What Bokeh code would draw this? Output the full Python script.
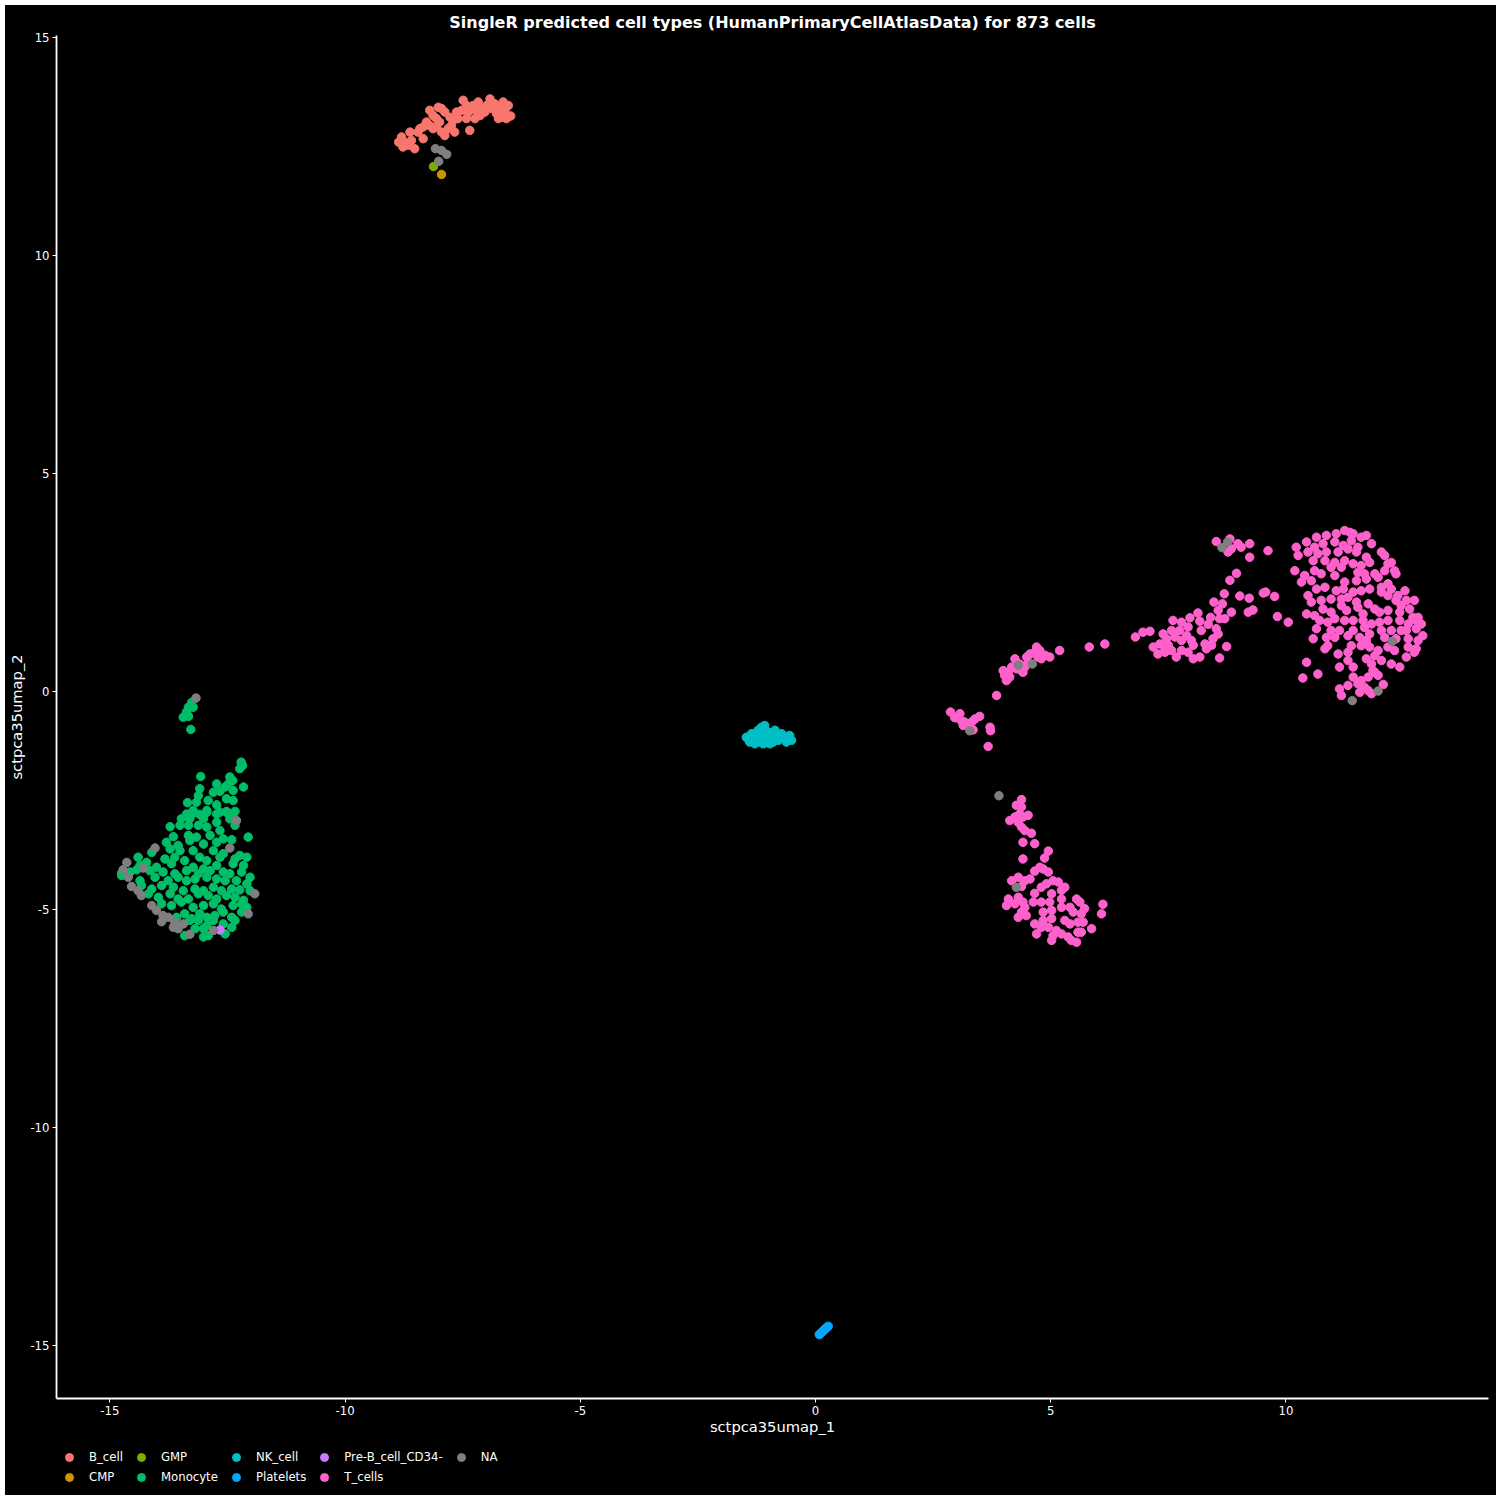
from bokeh.plotting import figure
from bokeh.layouts import column
from bokeh.models import Range1d, Legend, LegendItem, ColumnDataSource, FixedTicker
from bokeh.embed import file_html
from bokeh.resources import INLINE

TITLE = "SingleR predicted cell types (HumanPrimaryCellAtlasData) for 873 cells"
X_LABEL = "sctpca35umap_1"
Y_LABEL = "sctpca35umap_2"
x_ticks = [-15, -10, -5, 0, 5, 10]
y_ticks = [-15, -10, -5, 0, 5, 10, 15]

categories = ["B_cell", "CMP", "GMP", "Monocyte", "NK_cell", "Platelets",
              "Pre-B_cell_CD34-", "T_cells", "NA"]
colors = ["#F8766D", "#CD9600", "#7CAE00", "#00BE67", "#00BFC4", "#00A9FF",
          "#C77CFF", "#FF61CC", "#7F7F7F"]

b_cell = [
    (-8.80, 12.72), (-8.73, 12.60), (-8.77, 12.49), (-8.62, 12.83), (-8.59, 12.64),
    (-8.52, 12.45), (-8.66, 12.53), (-8.41, 12.91), (-8.34, 12.95), (-8.45, 12.83),
    (-8.27, 13.06), (-8.20, 12.98), (-8.34, 12.68), (-8.13, 12.91), (-8.06, 12.95),
    (-8.20, 13.33), (-8.13, 13.21), (-8.06, 13.14), (-8.02, 13.40), (-7.95, 13.37),
    (-7.88, 13.29), (-7.99, 13.06), (-7.95, 12.83), (-7.88, 12.75), (-7.81, 12.91),
    (-7.74, 12.98), (-7.77, 13.17), (-7.70, 13.10), (-7.63, 13.29), (-7.60, 13.14),
    (-7.67, 12.83), (-7.49, 13.56), (-7.52, 13.33), (-7.42, 13.14), (-7.35, 12.87),
    (-7.38, 13.29), (-7.28, 13.44), (-7.21, 13.33), (-7.17, 13.52), (-7.13, 13.21),
    (-7.10, 13.37), (-6.99, 13.44), (-6.92, 13.59), (-6.89, 13.37), (-6.82, 13.48),
    (-6.78, 13.25), (-6.71, 13.40), (-6.67, 13.17), (-6.60, 13.33), (-6.57, 13.14),
    (-6.53, 13.44), (-6.64, 13.52), (-6.74, 13.14), (-7.03, 13.29), (-7.24, 13.14),
    (-7.42, 13.44), (-8.86, 12.60), (-6.48, 13.20),
]
cmp_cells = [(-7.95, 11.86)]
gmp_cells = [(-8.12, 12.04)]
pre_b = [(-12.66, -5.47)]

monocyte = [
    (-13.26, -0.25), (-13.33, -0.36), (-13.23, -0.36), (-13.37, -0.47), (-13.44, -0.59),
    (-13.33, -0.57), (-13.28, -0.87),
    (-12.21, -1.62), (-12.18, -1.70), (-12.24, -1.77), (-13.07, -1.95), (-12.45, -1.96),
    (-12.39, -2.04), (-12.48, -2.12), (-12.73, -2.12), (-12.16, -2.19), (-12.55, -2.19),
    (-12.66, -2.29), (-12.80, -2.31), (-13.09, -2.23), (-13.12, -2.39), (-12.38, -2.27),
    (-12.38, -2.50), (-13.35, -2.55), (-13.16, -2.54), (-12.91, -2.50), (-12.73, -2.60),
    (-12.52, -2.46), (-13.23, -2.73), (-12.94, -2.73), (-12.66, -2.77), (-12.52, -2.75),
    (-12.34, -2.75),
    (-13.37, -2.81), (-13.23, -2.79), (-13.09, -2.82), (-12.94, -2.77), (-12.73, -2.81),
    (-12.52, -2.77), (-12.38, -2.81),
    (-13.48, -2.92), (-13.30, -2.92), (-13.01, -2.92), (-12.73, -3.00), (-12.45, -2.92),
    (-13.72, -3.10), (-13.51, -3.07), (-13.33, -3.07), (-13.12, -3.07), (-12.94, -3.11),
    (-12.66, -3.19), (-12.34, -3.07),
    (-13.65, -3.33), (-13.33, -3.30), (-13.16, -3.34), (-12.87, -3.30), (-12.59, -3.38),
    (-12.41, -3.40), (-12.06, -3.34),
    (-13.80, -3.46), (-13.55, -3.53), (-13.30, -3.42), (-13.01, -3.50), (-12.73, -3.46),
    (-14.11, -3.69), (-13.72, -3.61), (-13.51, -3.65), (-13.23, -3.65), (-12.80, -3.65),
    (-12.59, -3.72),
    (-14.40, -3.80), (-14.22, -3.92), (-13.83, -3.84), (-13.62, -3.80), (-13.41, -3.88),
    (-13.09, -3.80), (-12.94, -3.88), (-12.66, -3.80), (-12.34, -3.84), (-12.24, -3.76),
    (-12.09, -3.80),
    (-14.36, -3.99), (-14.01, -4.03), (-13.69, -3.95), (-13.23, -4.03), (-13.01, -4.07),
    (-12.73, -3.99), (-12.38, -3.95), (-12.16, -3.99),
    (-14.57, -4.14), (-14.43, -4.09), (-14.15, -4.11), (-13.87, -4.14), (-13.62, -4.18),
    (-13.37, -4.11), (-13.12, -4.18), (-12.87, -4.11), (-12.59, -4.14), (-12.45, -4.18),
    (-12.20, -4.14), (-12.02, -4.26),
    (-14.75, -4.22), (-14.36, -4.34), (-14.04, -4.26), (-13.76, -4.34), (-13.55, -4.26),
    (-13.37, -4.34), (-13.19, -4.30), (-12.94, -4.26), (-12.73, -4.30), (-12.55, -4.34),
    (-12.31, -4.34), (-12.09, -4.41),
    (-14.33, -4.45), (-14.11, -4.53), (-13.90, -4.45), (-13.65, -4.49), (-13.44, -4.57),
    (-13.19, -4.53), (-13.01, -4.57), (-12.80, -4.49), (-12.63, -4.57), (-12.41, -4.53),
    (-12.24, -4.55), (-12.02, -4.57),
    (-14.18, -4.64), (-13.97, -4.72), (-13.72, -4.64), (-13.55, -4.76), (-13.33, -4.76),
    (-13.12, -4.64), (-12.91, -4.68), (-12.73, -4.76), (-12.52, -4.68), (-12.34, -4.72),
    (-12.16, -4.79),
    (-13.90, -4.87), (-13.69, -4.91), (-13.48, -4.83), (-13.23, -4.95), (-13.01, -4.91),
    (-12.80, -4.87), (-12.63, -4.99), (-12.38, -4.91), (-12.20, -4.87), (-12.09, -4.95),
    (-13.58, -5.18), (-13.41, -5.10), (-13.26, -5.21), (-13.09, -5.10), (-12.94, -5.18),
    (-12.77, -5.14), (-12.59, -5.06), (-12.41, -5.18), (-12.20, -5.06),
    (-13.30, -5.25), (-13.12, -5.25), (-12.94, -5.37), (-12.80, -5.25), (-12.59, -5.33),
    (-12.34, -5.25),
    (-13.19, -5.44), (-13.01, -5.44), (-12.55, -5.56), (-12.41, -5.41),
    (-13.41, -5.60), (-13.01, -5.63), (-12.91, -5.60), (-14.75, -4.17),
]

nk_cell = [
    (-1.43, -1.09), (-1.36, -0.97), (-1.32, -1.16), (-1.25, -1.05), (-1.22, -0.89),
    (-1.15, -0.82), (-1.11, -1.01), (-1.08, -0.78), (-1.18, -1.16), (-1.04, -1.12),
    (-1.01, -0.93), (-0.94, -1.05), (-0.97, -1.20), (-0.86, -0.89), (-0.83, -1.01),
    (-0.79, -1.12), (-0.72, -0.97), (-0.65, -1.05), (-0.62, -1.16), (-0.55, -1.01),
    (-0.51, -1.12), (-1.29, -1.20), (-1.11, -1.20), (-0.90, -1.16), (-1.40, -1.16),
    (-1.47, -1.05),
]

platelets = [
    (0.08, -14.75), (0.12, -14.71), (0.15, -14.68), (0.18, -14.65), (0.21, -14.62),
    (0.24, -14.59), (0.27, -14.56), (0.10, -14.73), (0.20, -14.63),
]

t_cells = [
    # upper arm
    (3.99, 0.48), (4.02, 0.37), (4.06, 0.25), (4.10, 0.44), (4.17, 0.56), (4.24, 0.75),
    (4.27, 0.52), (4.34, 0.63), (4.38, 0.48), (4.45, 0.56), (4.49, 0.79), (4.52, 0.67),
    (4.56, 0.86), (4.66, 0.90), (4.70, 1.02), (4.73, 0.79), (4.77, 0.94), (4.80, 0.75),
    (4.88, 0.83), (4.98, 0.79), (5.19, 0.94), (5.82, 1.02), (6.15, 1.09), (4.13, 0.33),
    (4.41, 0.44),
    (2.87, -0.47), (2.96, -0.60), (3.07, -0.51), (3.10, -0.67), (3.17, -0.70),
    (3.25, -0.78), (3.28, -0.82), (3.35, -0.88), (3.39, -0.63), (3.49, -0.57),
    (3.71, -0.82), (3.72, -0.90), (3.67, -1.26), (3.85, -0.09), (3.00, -0.60),
    (3.14, -0.78), (3.32, -0.70),
    # lower cluster
    (4.38, -2.48), (4.27, -2.61), (4.38, -2.65), (4.13, -2.96), (4.24, -2.88),
    (4.34, -2.81), (4.41, -2.88), (4.52, -2.84), (4.31, -3.00), (4.38, -3.11),
    (4.45, -3.19), (4.59, -3.25), (4.41, -3.46), (4.66, -3.49), (4.95, -3.66),
    (4.87, -3.82), (4.41, -3.84), (4.77, -4.03), (4.66, -4.12), (4.95, -4.14),
    (4.56, -4.30), (4.31, -4.26), (4.17, -4.34), (4.38, -4.47), (4.45, -4.34),
    (4.84, -4.07), (5.05, -4.34), (5.16, -4.37), (5.30, -4.49), (4.80, -4.49),
    (4.91, -4.41), (5.02, -4.64), (5.23, -4.56), (4.66, -4.63), (4.80, -4.83),
    (4.98, -4.83), (4.63, -4.83), (4.41, -4.83), (4.31, -4.72), (4.10, -4.76),
    (4.06, -4.91), (4.24, -4.87), (4.45, -4.95), (4.31, -5.18), (4.48, -5.14),
    (4.38, -5.06), (4.84, -5.06), (5.02, -5.02), (5.23, -4.76), (5.23, -4.95),
    (5.41, -4.95), (5.55, -4.76), (5.62, -4.83), (5.48, -5.06), (5.65, -5.10),
    (5.72, -4.98), (4.84, -5.25), (5.02, -5.21), (4.80, -5.41), (4.95, -5.41),
    (5.12, -5.48), (5.30, -5.25), (5.41, -5.33), (5.58, -5.29), (5.69, -5.29),
    (4.66, -5.33), (4.70, -5.56), (5.05, -5.60), (5.23, -5.56), (5.37, -5.63),
    (5.58, -5.52), (5.44, -5.71), (5.65, -5.52), (5.87, -5.44), (6.08, -5.10),
    (6.11, -4.88), (5.02, -5.71), (5.55, -5.75),
    # middle branch
    (8.52, 3.44), (8.81, 3.50), (8.98, 3.39), (9.05, 3.31), (9.23, 3.39), (8.77, 3.20),
    (8.84, 3.27), (9.23, 3.08), (9.62, 3.23), (8.95, 2.71), (8.81, 2.55), (8.69, 2.24),
    (8.47, 2.05), (8.65, 2.01), (9.02, 2.19), (9.22, 2.14), (9.52, 2.26), (9.57, 2.28),
    (9.76, 2.18), (8.84, 1.82), (9.20, 1.82), (9.30, 1.87), (9.82, 1.72),
    (6.80, 1.25), (6.96, 1.36), (7.11, 1.38), (7.39, 1.32), (7.57, 1.40), (7.60, 1.63),
    (7.78, 1.59), (7.96, 1.69), (7.92, 1.48), (8.13, 1.80), (8.17, 1.61), (8.35, 1.54),
    (8.40, 1.70), (8.56, 1.86), (8.59, 1.67), (8.70, 1.67), (8.52, 1.44), (8.56, 1.32),
    (8.45, 1.21), (8.28, 1.09), (8.31, 0.98), (8.42, 1.06), (8.74, 1.03), (8.59, 0.77),
    (8.17, 0.79), (8.03, 0.75), (7.92, 0.90), (7.78, 0.94), (7.67, 0.79), (7.50, 1.06),
    (7.32, 1.09), (7.18, 1.02), (7.28, 0.86), (7.43, 0.90), (7.64, 1.25), (7.74, 1.40),
    (7.89, 1.28), (7.99, 1.17), (8.03, 1.06), (7.46, 1.21), (7.78, 1.17), (8.20, 1.40),
    (7.57, 0.94), (7.43, 0.98),
    # large right cluster
    (10.65, 3.54), (10.86, 3.58), (11.07, 3.62), (11.25, 3.69), (11.36, 3.65),
    (11.43, 3.62), (11.60, 3.54), (11.71, 3.58),
    (10.22, 3.31), (10.44, 3.43), (10.61, 3.31), (10.79, 3.39), (11.04, 3.43),
    (11.22, 3.35), (11.39, 3.46), (11.53, 3.31), (11.82, 3.39), (12.03, 3.20),
    (10.26, 3.12), (10.47, 3.20), (10.68, 3.16), (10.86, 3.20), (11.11, 3.20),
    (11.32, 3.27), (11.50, 3.20), (11.71, 3.08), (12.10, 3.12), (12.17, 2.93),
    (10.58, 3.00), (10.83, 3.00), (11.04, 2.96), (11.25, 3.00), (11.43, 2.93),
    (11.60, 2.89), (11.78, 2.96), (12.24, 2.96),
    (10.19, 2.77), (10.40, 2.66), (10.61, 2.77), (10.96, 2.85), (11.18, 2.85),
    (11.53, 2.73), (11.67, 2.70), (11.89, 2.70), (12.10, 2.77), (12.31, 2.77),
    (12.34, 2.70),
    (10.33, 2.51), (10.54, 2.54), (10.75, 2.70), (11.04, 2.66), (11.25, 2.51),
    (11.50, 2.54), (11.71, 2.58), (11.96, 2.62), (12.17, 2.47), (12.03, 2.39),
    (10.47, 2.20), (10.65, 2.35), (10.83, 2.39), (11.07, 2.31), (11.22, 2.35),
    (11.43, 2.28), (11.60, 2.31), (11.78, 2.35), (12.03, 2.28), (12.24, 2.35),
    (12.38, 2.20), (12.53, 2.31), (12.56, 2.09),
    (10.54, 2.05), (10.75, 2.09), (10.96, 2.12), (11.18, 2.12), (11.32, 2.16),
    (11.50, 2.05), (11.75, 2.01), (12.17, 2.20), (12.34, 2.09), (12.45, 1.97),
    (12.73, 2.09),
    (10.44, 1.78), (10.61, 1.74), (10.79, 1.89), (10.96, 1.82), (11.18, 1.97),
    (11.29, 1.86), (11.53, 1.93), (11.64, 1.78), (11.89, 1.89), (11.99, 1.82),
    (12.17, 1.86), (12.42, 1.82), (12.63, 1.89), (12.70, 1.70), (12.81, 1.70),
    (10.05, 1.59), (10.72, 1.63), (10.89, 1.59), (11.04, 1.67), (11.25, 1.63),
    (11.43, 1.63), (11.64, 1.63), (11.82, 1.55), (11.99, 1.59), (12.17, 1.63),
    (12.42, 1.63), (12.60, 1.55), (12.88, 1.55), (12.77, 1.63),
    (10.65, 1.44), (10.96, 1.40), (11.14, 1.40), (11.43, 1.40), (11.67, 1.47),
    (11.78, 1.32), (12.03, 1.40), (12.24, 1.40), (12.45, 1.40), (12.56, 1.40),
    (12.77, 1.44), (12.91, 1.28),
    (10.58, 1.21), (10.86, 1.24), (11.04, 1.24), (11.32, 1.28), (11.57, 1.24),
    (11.71, 1.17), (12.10, 1.24), (12.34, 1.21), (12.60, 1.21), (12.81, 1.17),
    (10.89, 1.05), (10.83, 0.98), (11.11, 0.86), (11.39, 1.05), (11.32, 0.90),
    (11.60, 1.05), (11.78, 1.02), (11.96, 0.94), (12.17, 1.02), (12.31, 0.94),
    (12.60, 1.02), (12.73, 0.90), (12.56, 0.79), (12.77, 0.98),
    (10.44, 0.67), (10.68, 0.40), (11.14, 0.56), (11.32, 0.71), (11.43, 0.56),
    (11.71, 0.75), (11.82, 0.63), (11.89, 0.82), (12.03, 0.71), (12.24, 0.63),
    (12.42, 0.56), (11.85, 0.48),
    (10.36, 0.31), (11.43, 0.33), (11.60, 0.25), (11.75, 0.33), (11.89, 0.44),
    (11.96, 0.37), (12.07, 0.16),
    (11.14, 0.06), (11.32, 0.14), (11.53, 0.18), (11.57, -0.02), (11.75, 0.02),
    (11.82, -0.05), (11.67, 0.10), (11.18, -0.09),
]

na_cells = [
    (-8.08, 12.45), (-7.95, 12.41), (-7.84, 12.32), (-8.01, 12.16),
    (-13.17, -0.15), (-12.31, -2.96), (-14.04, -3.59), (-12.45, -3.59), (-14.64, -3.92),
    (-14.72, -4.09), (-14.29, -4.05), (-14.61, -4.26), (-14.54, -4.47), (-14.40, -4.57),
    (-14.33, -4.68), (-11.92, -4.64), (-14.11, -4.91), (-14.01, -5.02), (-13.87, -5.14),
    (-13.76, -5.18), (-12.06, -5.10), (-13.90, -5.28), (-13.62, -5.29), (-13.44, -5.33),
    (-13.65, -5.41), (-13.55, -5.44), (-12.80, -5.48), (-13.30, -5.57),
    (4.61, 0.63), (4.31, 0.60), (3.28, -0.90), (3.90, -2.39), (4.27, -4.49),
    (8.76, 3.43), (8.64, 3.30), (12.26, 1.15), (11.96, 0.01), (11.41, -0.21),
]

series = [b_cell, cmp_cells, gmp_cells, monocyte, nk_cell, platelets, pre_b, t_cells, na_cells]

FONT = "DejaVu Sans"

p = figure(frame_width=1432, frame_height=1363,
           x_range=Range1d(-16.135, 14.307), y_range=Range1d(-16.216, 15.046),
           output_backend="svg", toolbar_location=None,
           min_border_left=50, min_border_right=8, min_border_top=30, min_border_bottom=45,
           background_fill_color="black", border_fill_color="black",
           outline_line_color=None, margin=0)

p.title.text = TITLE
p.title.align = "center"
p.title.text_color = "white"
p.title.text_font = FONT
p.title.text_font_size = "16px"
p.title.text_font_style = "bold"
p.title.standoff = 7

p.xgrid.visible = False
p.ygrid.visible = False

for ax, ticks, lab in ((p.xaxis[0], x_ticks, X_LABEL), (p.yaxis[0], y_ticks, Y_LABEL)):
    ax.ticker = FixedTicker(ticks=ticks)
    ax.major_label_overrides = {t: str(t) for t in ticks}
    ax.axis_label = lab
    ax.axis_label_text_color = "white"
    ax.axis_label_text_font = FONT
    ax.axis_label_text_font_size = "14.7px"
    ax.axis_label_text_font_style = "normal"
    ax.axis_label_standoff = 2
    ax.major_label_text_color = "white"
    ax.major_label_text_font = FONT
    ax.major_label_text_font_size = "11.7px"
    ax.major_label_standoff = 3
    ax.axis_line_color = "white"
    ax.axis_line_width = 1.8
    ax.major_tick_line_color = "white"
    ax.major_tick_line_width = 1
    ax.major_tick_out = 4
    ax.major_tick_in = 0
    ax.minor_tick_line_color = None
p.xaxis[0].axis_label_standoff = 0

sources = []
for cat, col, pts in zip(categories, colors, series):
    src = ColumnDataSource(dict(x=[q[0] for q in pts], y=[q[1] for q in pts]))
    sources.append(src)
    p.scatter("x", "y", source=src, size=8.5, fill_color=col, line_color=col)

# legend strip below the plot: same sources, viewed through ranges that
# contain no data, so only the legend keys and labels are visible
leg_fig = figure(width=1490, height=52, x_range=Range1d(100, 101), y_range=Range1d(100, 101),
                 output_backend="svg", toolbar_location=None,
                 x_axis_type=None, y_axis_type=None,
                 min_border_left=0, min_border_right=0, min_border_top=0, min_border_bottom=0,
                 background_fill_color="black", border_fill_color="black",
                 outline_line_color=None, margin=0)
leg_fig.xgrid.visible = False
leg_fig.ygrid.visible = False
items = []
for cat, col, src in zip(categories, colors, sources):
    r = leg_fig.scatter("x", "y", source=src, size=8.5, fill_color=col, line_color=col)
    items.append(LegendItem(label=cat, renderers=[r]))

legend = Legend(items=items, location=(-5, 8), orientation="vertical", nrows=2,
                glyph_width=36, glyph_height=20, label_standoff=2, spacing=0,
                padding=0, margin=0, label_height=20,
                label_text_font=FONT, label_text_font_size="11.7px",
                label_text_color="white", background_fill_alpha=0,
                border_line_alpha=0)
leg_fig.add_layout(legend, "center")

layout = column(p, leg_fig, spacing=0, margin=(5, 5, 5, 5),
                styles={"background-color": "black"})

open("out.html", "w").write(file_html(layout, INLINE))
